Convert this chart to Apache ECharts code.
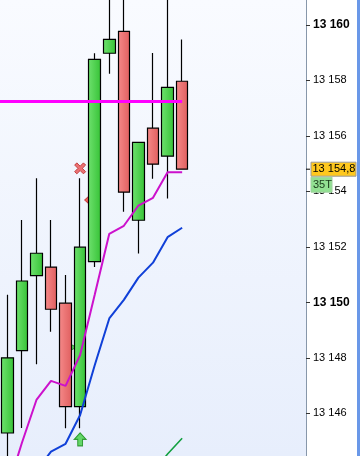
<!DOCTYPE html>
<html><head><meta charset="utf-8">
<script src="https://cdn.jsdelivr.net/npm/echarts@6/dist/echarts.min.js"></script>
<style>
html,body{margin:0;padding:0;background:#fff;}
#c{width:360px;height:456px;}
</style></head>
<body><div id="c"></div>
<script>
// ---- data ----
const categories = ['1','2','3','4','5','6','7','8','9','10','11','12','13','14','15','16','17','18','19','20','21'];
// [open, close, low, high]
const candles = [
  [13145.29, 13148.00, 13144.00, 13150.27],
  [13148.26, 13150.77, 13145.47, 13152.97],
  [13150.96, 13151.77, 13147.77, 13154.47],
  [13151.27, 13149.75, 13148.94, 13152.97],
  [13149.97, 13146.24, 13145.46, 13150.99],
  [13146.24, 13151.99, 13145.46, 13154.47],
  [13151.47, 13158.76, 13151.27, 13158.98],
  [13158.98, 13159.48, 13158.24, 13161.50],
  [13159.77, 13153.97, 13153.27, 13161.50],
  [13152.96, 13155.77, 13151.76, 13155.77],
  [13156.28, 13154.98, 13154.46, 13158.99],
  [13155.27, 13157.75, 13153.74, 13161.50],
  [13157.97, 13154.80, 13154.80, 13159.48]
];
const maMagenta = [13143.24, 13144.93, 13146.48, 13147.17, 13146.99, 13148.10, 13150.27, 13152.47, 13152.76, 13153.49, 13153.77, 13154.69, 13154.69];
const maBlue = [null, null, 13143.92, 13144.62, 13144.90, 13145.94, 13147.73, 13149.42, 13150.09, 13150.89, 13151.43, 13152.35, 13152.69];
const maGreen = [null, null, null, null, null, null, null, null, null, null, 13143.9, 13144.53, 13145.10];
const levelLine = 13157.25;
const levelEndIndex = 12;
const sellMarks = [[5, 13154.83]];
const diamondMarks = [[6, 13153.69]];
const flagMarks = [[5, 13148.38]];
const buyArrows = [[5, 13145.06]];
const yTicks = [13146, 13148, 13150, 13152, 13154, 13156, 13158, 13160];
const lastPrice = 13154.8;
const volumeTag = '35T';
const yMin = 13144.46, yMax = 13160.90;

function fmt(v){
  const s = String(Math.round(v));
  return s.slice(0, s.length-3) + ' ' + s.slice(s.length-3);
}

const chart = echarts.init(document.getElementById('c'));
const option = {
  animation: false,
  grid: {
    left: -3.6, right: 54, top: 0, bottom: 0, show: true, borderWidth: 0,
    backgroundColor: {type:'linear', x:0, y:0, x2:0, y2:1,
      colorStops:[{offset:0,color:'#f9fbff'},{offset:1,color:'#e7eefc'}]}
  },
  xAxis: {type:'category', data: categories, show:false, boundaryGap:true},
  yAxis: {
    type:'value', position:'right', min:yMin, max:yMax, scale:true,
    splitLine:{show:false},
    axisLine:{show:true, lineStyle:{color:'#8797aa', width:1}},
    axisTick:{show:true, length:4, customValues: yTicks, lineStyle:{color:'#333'}},
    axisLabel:{
      customValues: yTicks, margin:7, color:'#000',
      fontFamily:'Liberation Sans, Arial, sans-serif',
      formatter: function(v){ const s = fmt(v); return (Math.round(v)%10===0) ? '{b|'+s+'}' : '{n|'+s+'}'; },
      rich:{
        b:{fontWeight:'bold', fontSize:12, color:'#000', fontFamily:'Liberation Sans, Arial, sans-serif'},
        n:{fontSize:11, color:'#000', fontFamily:'Liberation Sans, Arial, sans-serif'}
      }
    }
  },
  series: [
    {type:'scatter', data: diamondMarks, symbol:'diamond', symbolSize:[10,9], symbolOffset:[-5,0], z:1,
     itemStyle:{color:'#e8463c', borderColor:'#c02020', borderWidth:1}},
    {type:'scatter', data: flagMarks, symbol:'triangle', symbolRotate:-90, symbolSize:[7,7], symbolOffset:[-7,0], z:1,
     itemStyle:{color:'#3ec43e', borderColor:'#118811', borderWidth:1}},
    {type:'candlestick', data: candles, barWidth:12, z:3, clip:true,
     itemStyle:{
       color:{type:'linear',x:0,y:0,x2:1,y2:0,colorStops:[{offset:0,color:'#6fe26f'},{offset:1,color:'#36c236'}]},
       color0:{type:'linear',x:0,y:0,x2:1,y2:0,colorStops:[{offset:0,color:'#f58a8a'},{offset:1,color:'#e05e5e'}]},
       borderColor:'#000', borderColor0:'#000', borderWidth:1.2
     }
    },
    {id:'maM', type:'line', data: maMagenta, symbol:'none', z:4, clip:true,
     lineStyle:{color:'#cc11cc', width:2}},
    {type:'line', data: maBlue, symbol:'none', z:4, clip:true, lineStyle:{color:'#1040d8', width:2}},
    {type:'line', data: maGreen, symbol:'none', z:4, clip:true, lineStyle:{color:'#12a040', width:1.6}},
    {type:'scatter', data: sellMarks, z:6,
     symbol:'path://M2,0 L5,3 L8,0 L10,2 L7,5 L10,8 L8,10 L5,7 L2,10 L0,8 L3,5 L0,2 Z',
     symbolSize:[11,11], itemStyle:{color:'#e85050', borderColor:'#b82828', borderWidth:1}},
    {type:'scatter', data: buyArrows, z:6,
     symbol:'path://M5,0 L10,6 L7,6 L7,12 L3,12 L3,6 L0,6 Z',
     symbolSize:[12,13], itemStyle:{color:'#44d044', borderColor:'#118811', borderWidth:1}}
  ]
};
chart.setOption(option);

const endPt = chart.convertToPixel({xAxisIndex:0, yAxisIndex:0}, [levelEndIndex, levelLine]);
chart.setOption({
  series: [{id:'maM',
    markLine:{silent:true, symbol:['none','none'], label:{show:false}, animation:false,
      lineStyle:{color:'#ff00ff', width:3, type:'solid'},
      data:[[{x:0, y:endPt[1]},{x:endPt[0], y:endPt[1]}]]}
  }]
});

const yp = chart.convertToPixel({yAxisIndex:0}, lastPrice);
const ax = 306;
chart.setOption({
  graphic: [
    {type:'rect', z:100, shape:{x:357, y:0, width:3, height:456}, style:{fill:'#6a98e8'}},
    {type:'line', z:100, shape:{x1:ax, y1:yp, x2:ax+4, y2:yp}, style:{stroke:'#000', lineWidth:1}},
    {type:'rect', z:100, shape:{x:311, y:yp-7, width:45, height:14}, style:{fill:'#ffc81e', stroke:'#9a9a9a', lineWidth:1}},
    {type:'text', z:101, x:312.5, y:yp, style:{text: String(lastPrice).replace(/^(\d{2})(\d{3})\.(\d)$/, '$1 $2,$3'), font:'11px "Liberation Sans", Arial, sans-serif', fill:'#000', verticalAlign:'middle'}},
    {type:'rect', z:100, shape:{x:311, y:yp+8, width:21, height:15}, style:{fill:'#92e092', stroke:'#9ed09e', lineWidth:1}},
    {type:'text', z:101, x:313, y:yp+15.5, style:{text: volumeTag, font:'11px "Liberation Sans", Arial, sans-serif', fill:'#1a3a1a', verticalAlign:'middle'}}
  ]
});
</script>
</body></html>
